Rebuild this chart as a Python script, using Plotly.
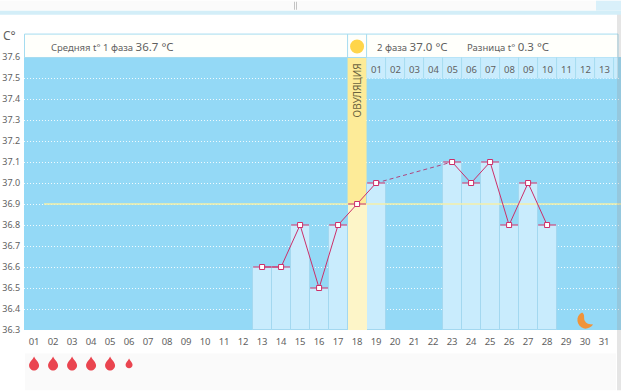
import plotly.graph_objects as go

days = list(range(1, 32))
day_labels = [f"{d:02d}" for d in days]
phase2_days = list(range(19, 32))
phase2_labels = [f"{d:02d}" for d in range(1, 14)]
y_ticks = [36.3, 36.4, 36.5, 36.6, 36.7, 36.8, 36.9, 37.0, 37.1, 37.2, 37.3, 37.4, 37.5, 37.6]

bar_days = [13, 14, 15, 16, 17, 19, 23, 24, 25, 26, 27, 28]
bar_temps = [36.6, 36.6, 36.8, 36.5, 36.8, 37.0, 37.1, 37.0, 37.1, 36.8, 37.0, 36.8]
ovulation_day = 18
ovulation_temp = 36.9
line_a_days = [13, 14, 15, 16, 17, 18, 19]
line_a_temps = [36.6, 36.6, 36.8, 36.5, 36.8, 36.9, 37.0]
gap_days = [19, 23]
gap_temps = [37.0, 37.1]
line_b_days = [23, 24, 25, 26, 27, 28]
line_b_temps = [37.1, 37.0, 37.1, 36.8, 37.0, 36.8]
cover_temp = 36.9
drop_days = [1, 2, 3, 4, 5, 6]
drop_scale = [1, 1, 1, 1, 1, 0.7]
moon_day = 30

FONT = "Noto Sans"
TXT = "#5f5f5f"
CRIM = "#cc2f6a"
X0, X1 = 0.47, 31.89
Y0, Y1 = 36.3, 37.6


def px_x(p):
    return (p - 24) / 597


def px_y(p):
    return 1 - (p - 56.5) / 274


fig = go.Figure()
fig.add_bar(x=bar_days, y=[t - Y0 for t in bar_temps], base=Y0, width=1,
            marker=dict(color="#c9ecfd", line=dict(color="#a3d8f0", width=1)), hoverinfo="skip")
fig.add_bar(x=[ovulation_day], y=[ovulation_temp - Y0], base=Y0, width=1,
            marker=dict(color="#fdf5c8", line=dict(width=0)), hoverinfo="skip")
fig.add_scatter(x=[X0 + 1.05, X1], y=[cover_temp, cover_temp], mode="lines",
                line=dict(color="#f3efa8", width=1.3), hoverinfo="skip")
fig.add_scatter(x=gap_days, y=gap_temps, mode="lines",
                line=dict(color="#b0457f", width=1, dash="4px,3px"), hoverinfo="skip")
for xs, ys in ((line_a_days, line_a_temps), (line_b_days, line_b_temps)):
    fig.add_scatter(x=xs, y=ys, mode="lines+markers",
                    line=dict(color=CRIM, width=1),
                    marker=dict(symbol="square", size=5, color="white", line=dict(color=CRIM, width=1)),
                    error_x=dict(type="constant", value=0.47, color=CRIM, thickness=1, width=0),
                    hoverinfo="skip")

shapes = []
# page decoration
shapes += [
    dict(type="rect", xref="paper", yref="paper", x0=px_x(0), x1=px_x(621), y0=px_y(10), y1=px_y(0),
         fillcolor="#fbfbfb", line_width=0, layer="below"),
    dict(type="rect", xref="paper", yref="paper", x0=px_x(0), x1=px_x(621), y0=px_y(14), y1=px_y(10),
         fillcolor="#d3eef8", line_width=0, layer="below"),
    dict(type="rect", xref="paper", yref="paper", x0=px_x(596), x1=px_x(621), y0=px_y(10), y1=px_y(0),
         fillcolor="#d9f0fa", line_width=0, layer="below"),
    dict(type="rect", xref="paper", yref="paper", x0=px_x(294), x1=px_x(295), y0=px_y(9), y1=px_y(1),
         fillcolor="#c4c4c4", line_width=0, layer="below"),
    dict(type="rect", xref="paper", yref="paper", x0=px_x(296), x1=px_x(297), y0=px_y(9), y1=px_y(1),
         fillcolor="#c4c4c4", line_width=0, layer="below"),
    # header
    dict(type="rect", xref="paper", yref="paper", x0=px_x(24.5), x1=px_x(618), y0=px_y(57), y1=px_y(33.5),
         fillcolor="#fffffb", line=dict(color="#a5dcf0", width=1), layer="above"),
    dict(type="rect", xref="paper", yref="paper", x0=px_x(366.5), x1=px_x(618), y0=px_y(78), y1=px_y(57),
         fillcolor="#c9ecfd", line_width=0, layer="above"),
    # bottom panel
    dict(type="rect", xref="paper", yref="paper", x0=px_x(25), x1=px_x(616), y0=px_y(391), y1=px_y(354),
         fillcolor="#fafafa", line_width=0, layer="below"),
    # right shadow
    dict(type="rect", xref="paper", yref="paper", x0=px_x(617), x1=px_x(621), y0=px_y(391), y1=px_y(14),
         fillcolor="rgba(150,150,150,0.25)", line_width=0, layer="above"),
]
# ovulation column
shapes.append(dict(type="rect", xref="x", yref="y", x0=ovulation_day - 0.5, x1=ovulation_day + 0.5,
                   y0=ovulation_temp, y1=Y1, fillcolor="#fdeb98", line_width=0, layer="between"))
for edge in (ovulation_day - 0.5, ovulation_day + 0.5):
    shapes.append(dict(type="line", xref="x", yref="paper", x0=edge, x1=edge,
                       y0=px_y(57), y1=px_y(33.5), line=dict(color="#a5dcf0", width=1), layer="above"))
# sun
shapes.append(dict(type="circle", xref="x", yref="paper", xsizemode="pixel", xanchor=ovulation_day,
                   x0=-7, x1=7, ysizemode="pixel", yanchor=px_y(46), y0=-7, y1=7,
                   fillcolor="#ffd54a", line_width=0, layer="above"))
# cell separators in the upper row
for d in phase2_days:
    shapes.append(dict(type="line", xref="x", yref="paper", x0=d + 0.5, x1=d + 0.5,
                       y0=px_y(78), y1=px_y(57), line=dict(color="#a5dcf0", width=1), layer="above"))
# drops
for d, s in zip(drop_days, drop_scale):
    w, t, m, b = 5 * s, 7 * s, -2 * s, -7 * s
    shapes.append(dict(type="path", xref="x", yref="paper", xsizemode="pixel", xanchor=d,
                       ysizemode="pixel", yanchor=px_y(364),
                       path=f"M 0 {t:.1f} C {-0.3*w:.1f} {0.5*t:.1f} {-w:.1f} {0.2*t:.1f} {-w:.1f} {m:.1f} "
                            f"C {-w:.1f} {0.7*b:.1f} {-0.5*w:.1f} {b:.1f} 0 {b:.1f} "
                            f"C {0.5*w:.1f} {b:.1f} {w:.1f} {0.7*b:.1f} {w:.1f} {m:.1f} "
                            f"C {w:.1f} {0.2*t:.1f} {0.3*w:.1f} {0.5*t:.1f} 0 {t:.1f} Z",
                       fillcolor="#ea4550", line_width=0, layer="above"))
# moon
shapes.append(dict(type="path", xref="x", yref="paper", xsizemode="pixel", xanchor=moon_day,
                   ysizemode="pixel", yanchor=px_y(321),
                   path="M -3 8 C -10 5 -9 -6 -1 -8 C 2 -8.5 6 -7 8 -4 C 4 -4 1 -3 -0.5 0 C -1.5 3 0 6 -3 8 Z",
                   fillcolor="#f0943a", line_width=0, layer="above"))
fig.update_layout(shapes=shapes)

ann = [
    dict(text="C°", x=px_x(9.5), y=px_y(35), size=12),
    dict(text="Средняя t° 1 фаза <span style='font-size:11.5px'>36.7 °C</span>", x=px_x(112), y=px_y(45.5), size=9.5),
    dict(text="2 фаза <span style='font-size:11.5px'>37.0 °C</span>", x=px_x(412.5), y=px_y(45.5), size=9.5),
    dict(text="Разница t° <span style='font-size:11.5px'>0.3 °C</span>", x=px_x(507.5), y=px_y(45.5), size=9.5),
]
for a in ann:
    fig.add_annotation(text=a["text"], xref="paper", yref="paper", x=a["x"], y=a["y"], showarrow=False,
                       xanchor="center", yanchor="middle",
                       font=dict(family=FONT, size=a["size"], color=TXT))
fig.add_annotation(text="ОВУЛЯЦИЯ", xref="x", yref="paper", x=ovulation_day, y=px_y(90), textangle=-90,
                   showarrow=False, xanchor="center", yanchor="middle",
                   font=dict(family=FONT, size=10, color="#6b6440"))
for d, lab in zip(phase2_days, phase2_labels):
    fig.add_annotation(text=lab, xref="x", yref="paper", x=d, y=px_y(69.5), showarrow=False,
                       xanchor="center", yanchor="middle",
                       font=dict(family=FONT, size=9.5, color=TXT))

fig.update_layout(
    width=621, height=391, autosize=False,
    margin=dict(l=24, r=0, t=56.5, b=60.5, pad=0),
    paper_bgcolor="white", plot_bgcolor="#94d9f6",
    showlegend=False, barmode="overlay", bargap=0,
    xaxis=dict(range=[X0, X1], tickmode="array", tickvals=days, ticktext=day_labels, automargin=False,
               showgrid=False, zeroline=False, showline=False, ticks="outside", ticklen=3,
               tickcolor="rgba(0,0,0,0)", tickfont=dict(family=FONT, size=9.5, color=TXT)),
    yaxis=dict(range=[Y0, Y1], tickmode="array", tickvals=y_ticks, ticktext=[f"{v:.1f}" for v in y_ticks],
               automargin=False, showgrid=True, gridcolor="rgba(255,255,255,0.85)", griddash="1px,2px",
               gridwidth=1, zeroline=False, showline=False, ticks="outside", ticklen=1,
               tickcolor="rgba(0,0,0,0)", tickfont=dict(family=FONT, size=9, color=TXT)),
)
fig.write_html("out.html", config={"displayModeBar": False},
               post_script="document.body.style.margin='0';window.dispatchEvent(new Event('resize'));")
